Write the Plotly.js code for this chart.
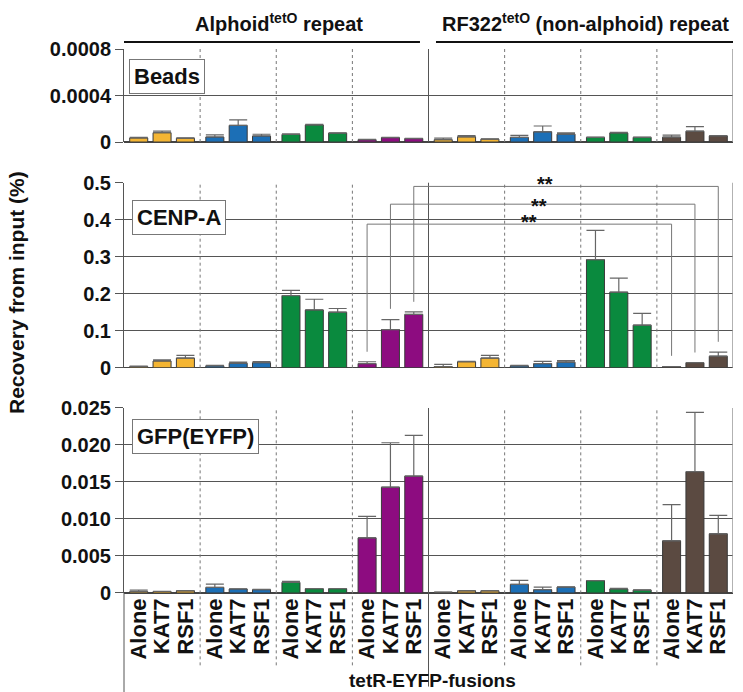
<!DOCTYPE html>
<html><head><meta charset="utf-8">
<script src="https://cdn.plot.ly/plotly-3.0.1.min.js"></script>
<style>html,body{margin:0;padding:0;background:#fff}</style>
</head><body><div id="chart" style="width:743px;height:692px"></div>
<script>
// ---- data ----
const fusions = ['Alone', 'KAT7', 'RSF1'];
const groupColors = ['#F4B533', '#1C6FB6', '#0A8A3E', '#8D0C80', '#F4B533', '#1C6FB6', '#0A8A3E', '#5B4A41'];
const panelNames = ['Beads', 'CENP-A', 'GFP(EYFP)'];
const repeatTitles = ['Alphoid<sup>tetO</sup> repeat', 'RF322<sup>tetO</sup> (non-alphoid) repeat'];
const xTitle = 'tetR-EYFP-fusions';
const yTitle = 'Recovery from input (%)';

const beadsValues = [0.000035, 0.00008, 0.000033, 0.000043, 0.000143, 0.000052, 0.000065, 0.000147, 0.000077, 0.00002, 0.000038, 0.00003,
                     0.00002, 0.000045, 0.000025, 0.00004, 0.000088, 0.000068, 0.00004, 0.000078, 0.00004, 0.000042, 0.000093, 0.000053];
const beadsErr = [0.000005, 0.000013, 0.000003, 0.000018, 0.000047, 0.000015, 0.000005, 0.000005, 0.000002, 0.000003, 0.000002, 0.000002,
                  0.000013, 0.00001, 0.000002, 0.000017, 0.00005, 0.00001, 0.000003, 0.000005, 0.000002, 0.000017, 0.00004, 0.000002];

const cenpaValues = [0.003, 0.018, 0.026, 0.005, 0.012, 0.0135, 0.195, 0.156, 0.150, 0.011, 0.103, 0.144,
                     0.003, 0.016, 0.026, 0.005, 0.011, 0.015, 0.292, 0.204, 0.115, 0.003, 0.0135, 0.031];
const cenpaErr = [0.001, 0.003, 0.007, 0.001, 0.003, 0.003, 0.014, 0.029, 0.010, 0.005, 0.027, 0.007,
                  0.006, 0.001, 0.007, 0.001, 0.006, 0.004, 0.079, 0.038, 0.032, 0.000, 0.000, 0.011];

const gfpValues = [0.00018, 0.0002, 0.0003, 0.00076, 0.00054, 0.00045, 0.00144, 0.00058, 0.00058, 0.00745, 0.0143, 0.0158,
                   0.0001, 0.0003, 0.0003, 0.00117, 0.00045, 0.0008, 0.00167, 0.00054, 0.0004, 0.00705, 0.0164, 0.008];
const gfpErr = [0.00022, 0.00002, 0.00003, 0.00045, 0.00003, 0.00005, 0.00015, 0.00002, 0.00002, 0.0029, 0.006, 0.0055,
                0.00002, 0.00003, 0.00003, 0.00055, 0.00035, 0.00003, 0.00002, 0.0001, 0.00002, 0.0049, 0.008, 0.0025];

const beadsTicks = [0, 0.0004, 0.0008];
const beadsTickText = ['0', '0.0004', '0.0008'];
const cenpaTicks = [0, 0.1, 0.2, 0.3, 0.4, 0.5];
const cenpaTickText = ['0', '0.1', '0.2', '0.3', '0.4', '0.5'];
const gfpTicks = [0, 0.005, 0.01, 0.015, 0.02, 0.025];
const gfpTickText = ['0', '0.005', '0.010', '0.015', '0.020', '0.025'];

// significance brackets (CENP-A panel): bar indices and levels
const bracketLeft = [9, 10, 11];
const bracketRight = [21, 22, 23];
const bracketLevel = [0.388, 0.442, 0.490];
const bracketLeftEnd = [0.043, 0.159, 0.178];
const bracketRightEnd = [0.032, 0.041, 0.070];
const bracketText = ['**', '**', '**'];

// ---- build ----
const nBars = beadsValues.length;
const xPos = [], tickText = [], colors = [];
for (let i = 0; i < nBars; i++) {
  const g = Math.floor(i / 3), j = i % 3;
  xPos.push(3 * g + 1 + (j - 1) * 0.92);
  tickText.push(fusions[j]);
  colors.push(groupColors[g]);
}
const zeros = xPos.map(() => 0);
const F = 'Liberation Sans, Arial, Helvetica, sans-serif';

function barTrace(vals, errs, xa, ya) {
  return {
    type: 'bar', x: xPos, y: vals, xaxis: xa, yaxis: ya, width: 0.71,
    marker: {color: colors, line: {color: '#3a3a3a', width: 1}},
    error_y: {type: 'data', symmetric: false, array: errs, arrayminus: zeros, color: '#666', thickness: 1.2, width: 9},
    hoverinfo: 'y', showlegend: false
  };
}

const data = [
  barTrace(beadsValues, beadsErr, 'x3', 'y3'),
  barTrace(cenpaValues, cenpaErr, 'x2', 'y2'),
  barTrace(gfpValues, gfpErr, 'x', 'y')
];

const doms = {y: [0, 0.3401], y2: [0.4142, 0.7542], y3: [0.829, 1]};

function yax(dom, rng, tv, tt) {
  return {
    domain: dom, range: rng, tickvals: tv, ticktext: tt, fixedrange: true,
    showgrid: true, gridcolor: '#555', gridwidth: 1,
    zeroline: true, zerolinecolor: '#444', zerolinewidth: 1.2,
    showline: true, linecolor: '#555', linewidth: 1,
    ticks: 'outside', ticklen: 8, tickcolor: '#555', tickwidth: 1,
    tickfont: {family: F, size: 20, color: '#111', weight: 'bold'}
  };
}

const shapes = [];
const sepX = [2.5, 5.5, 8.5, 11.5, 14.5, 17.5, 20.5];
[['y', doms.y], ['y2', doms.y2], ['y3', doms.y3]].forEach(([ya, dom]) => {
  const isBottom = ya === 'y';
  sepX.forEach(sx => {
    const solid = sx === 11.5;
    shapes.push({type: 'line', xref: 'x', yref: 'paper', x0: sx, x1: sx,
      y0: isBottom ? (solid ? -0.172 : -0.133) : dom[0], y1: dom[1],
      line: {color: solid ? '#555' : '#777', width: 1, dash: solid ? 'solid' : '3px,3px'}, layer: 'above'});
  });
  shapes.push({type: 'line', xref: 'x', yref: 'paper', x0: 23.5, x1: 23.5, y0: dom[0], y1: dom[1],
    line: {color: '#999', width: 1.5}, layer: 'above'});
});
shapes.push({type: 'line', xref: 'paper', yref: 'paper', x0: 0, x1: 0, y0: -0.19, y1: 0, line: {color: '#555', width: 1}});
shapes.push({type: 'line', xref: 'paper', yref: 'paper', x0: 0.0, x1: 0.486, y0: 1.0129, y1: 1.0129, line: {color: '#111', width: 2.2}});
shapes.push({type: 'line', xref: 'paper', yref: 'paper', x0: 0.5123, x1: 1.0, y0: 1.0129, y1: 1.0129, line: {color: '#111', width: 2.2}});

for (let k = 0; k < bracketLeft.length; k++) {
  const xl = xPos[bracketLeft[k]], xr = xPos[bracketRight[k]];
  shapes.push({type: 'path', xref: 'x2', yref: 'y2',
    path: `M ${xl} ${bracketLeftEnd[k]} L ${xl} ${bracketLevel[k]} L ${xr} ${bracketLevel[k]} L ${xr} ${bracketRightEnd[k]}`,
    line: {color: '#777', width: 1}, layer: 'above'});
}

const annotations = [];
const labelPos = [[0.0082, 0.9816], [0.0126, 0.7219], [0.0136, 0.3193]];
panelNames.forEach((nm, i) => {
  annotations.push({text: nm, xref: 'paper', yref: 'paper', x: labelPos[i][0], y: labelPos[i][1],
    xanchor: 'left', yanchor: 'top', showarrow: false, bgcolor: '#fff', bordercolor: '#777', borderwidth: 1, borderpad: 4,
    font: {family: F, size: 22, color: '#111', weight: 'bold'}});
});
// stars (positioned in paper space within the CENP-A panel)
const starX = [15.46, 15.85, 16.11];
const starYFrac = [0.816, 0.902, 1.018];
bracketText.forEach((t, k) => {
  annotations.push({text: t, xref: 'x2', yref: 'paper', x: starX[k],
    y: doms.y2[0] + starYFrac[k] * (doms.y2[1] - doms.y2[0]), yshift: -5, xanchor: 'center', yanchor: 'middle',
    showarrow: false, font: {family: F, size: 20, color: '#111', weight: 'bold'}});
});
annotations.push({text: repeatTitles[0], xref: 'paper', yref: 'paper', x: (279 - 124) / 609, y: (593 - 22) / 544,
  xanchor: 'center', yanchor: 'middle', showarrow: false, font: {family: F, size: 20, color: '#111', weight: 'bold'}});
annotations.push({text: repeatTitles[1], xref: 'paper', yref: 'paper', x: (585 - 124) / 609, y: (593 - 22) / 544,
  xanchor: 'center', yanchor: 'middle', showarrow: false, font: {family: F, size: 20, color: '#111', weight: 'bold'}});
annotations.push({text: yTitle, xref: 'paper', yref: 'paper', x: (16 - 124) / 609, y: (593 - 293) / 544, textangle: -90,
  xanchor: 'center', yanchor: 'middle', showarrow: false, font: {family: F, size: 21, color: '#111', weight: 'bold'}});
annotations.push({text: xTitle, xref: 'paper', yref: 'paper', x: (432 - 124) / 609, y: (593 - 680) / 544,
  xanchor: 'center', yanchor: 'middle', showarrow: false, font: {family: F, size: 19, color: '#111', weight: 'bold'}});

const layout = {
  width: 743, height: 692,
  margin: {l: 124, r: 10, t: 49, b: 99},
  paper_bgcolor: '#fff', plot_bgcolor: '#fff',
  showlegend: false, bargap: 0,
  xaxis: {anchor: 'y', range: [-0.5, 23.5], tickvals: xPos, ticktext: tickText, tickangle: -90, ticks: '',
    showgrid: false, zeroline: false, showline: false, fixedrange: true,
    tickfont: {family: F, size: 22, color: '#111', weight: 'bold'}},
  xaxis2: {anchor: 'y2', matches: 'x', range: [-0.5, 23.5], showticklabels: false, showgrid: false, zeroline: false, ticks: '', fixedrange: true},
  xaxis3: {anchor: 'y3', matches: 'x', range: [-0.5, 23.5], showticklabels: false, showgrid: false, zeroline: false, ticks: '', fixedrange: true},
  yaxis: yax(doms.y, [0, 0.025], gfpTicks, gfpTickText),
  yaxis2: yax(doms.y2, [0, 0.5], cenpaTicks, cenpaTickText),
  yaxis3: yax(doms.y3, [0, 0.0008], beadsTicks, beadsTickText),
  shapes: shapes, annotations: annotations
};

Plotly.newPlot('chart', data, layout, {displayModeBar: false, staticPlot: true});
</script></body></html>
